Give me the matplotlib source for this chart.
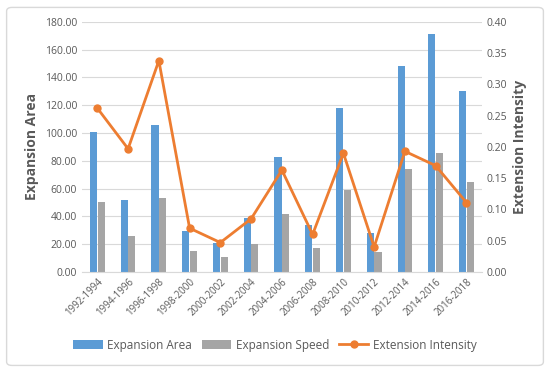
import numpy as np
import matplotlib.pyplot as plt
from matplotlib.patches import FancyBboxPatch

periods = ['1992-1994', '1994-1996', '1996-1998', '1998-2000', '2000-2002',
           '2002-2004', '2004-2006', '2006-2008', '2008-2010', '2010-2012',
           '2012-2014', '2014-2016', '2016-2018']
expansion_area = [101.0, 51.5, 106.0, 29.5, 20.5, 39.0, 82.5, 34.0, 118.0, 28.0, 148.0, 171.0, 130.5]
expansion_speed = [50.5, 26.0, 53.0, 15.0, 10.5, 20.0, 41.5, 17.0, 59.0, 14.0, 74.0, 85.5, 65.0]
extension_intensity = [0.262, 0.197, 0.338, 0.070, 0.047, 0.085, 0.163, 0.060, 0.190, 0.040, 0.193, 0.170, 0.111]

plt.rcParams['font.family'] = ['Open Sans', 'DejaVu Sans']
txt = '#595959'

fig = plt.figure(figsize=(5.5, 3.71), dpi=100)
fig.patches.append(FancyBboxPatch((0.012, 0.015), 0.976, 0.965, boxstyle='round,pad=0,rounding_size=0.01',
                                  transform=fig.transFigure, fill=False, edgecolor='#d9d9d9', lw=1))
ax = fig.add_axes([0.149, 0.267, 0.727, 0.674])
x = np.arange(len(periods))
w = 0.23
b1 = ax.bar(x - 0.125, expansion_area, w, color='#5B9BD5', label='Expansion Area', zorder=2)
b2 = ax.bar(x + 0.125, expansion_speed, w, color='#A5A5A5', label='Expansion Speed', zorder=2)
ax.set_ylim(0, 180)
ax.set_yticks(np.arange(0, 181, 20))
ax.set_yticklabels([f'{v:.2f}' for v in np.arange(0, 181, 20)])
ax.set_xlim(-0.5, len(periods) - 0.5)
ax.set_xticks(x)
ax.set_xticklabels(periods, rotation=45, ha='right', rotation_mode='anchor')
ax.grid(axis='y', color='#d9d9d9', lw=0.8, zorder=0)
ax.set_axisbelow(True)
for s in ax.spines.values():
    s.set_visible(False)
ax.spines['bottom'].set_visible(True)
ax.spines['bottom'].set_color('#d9d9d9')
ax.tick_params(length=0, colors=txt, labelsize=7.5)
ax.tick_params(axis='x', labelsize=7)
ax.set_ylabel('Expansion Area', fontsize=10, color=txt, fontweight='bold')

ax2 = ax.twinx()
l, = ax2.plot(x, extension_intensity, color='#ED7D31', lw=2, marker='o', ms=5, label='Extension Intensity', zorder=3)
ax2.set_ylim(0, 0.4)
ax2.set_yticks(np.arange(0, 0.41, 0.05))
ax2.set_yticklabels([f'{v:.2f}' for v in np.arange(0, 0.41, 0.05)])
for s in ax2.spines.values():
    s.set_visible(False)
ax2.tick_params(length=0, colors=txt, labelsize=7.5)
ax2.set_ylabel('Extension Intensity', fontsize=10, color=txt, fontweight='bold')

fig.legend(handles=[b1, b2, l], loc='center', bbox_to_anchor=(0.5, 0.07), ncol=3, frameon=False,
           fontsize=8.5, labelcolor=txt, handlelength=2.5, columnspacing=0.8, handletextpad=0.4)

fig.savefig('out.png', dpi=100)
